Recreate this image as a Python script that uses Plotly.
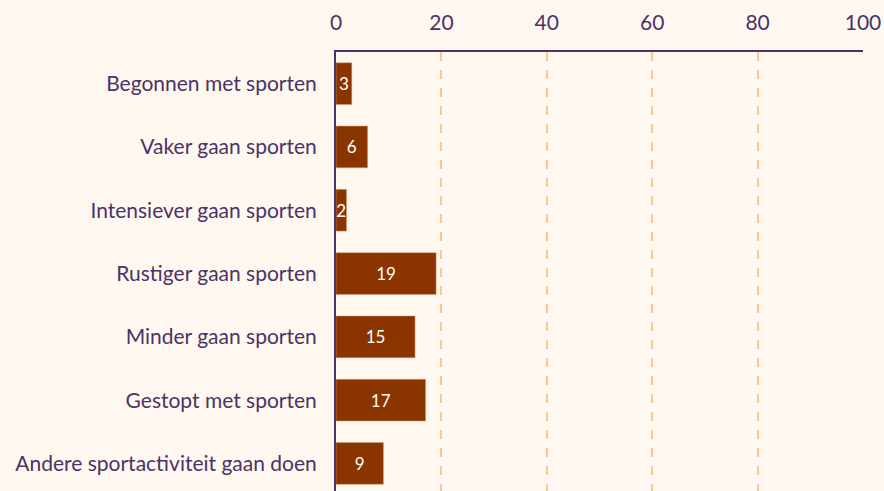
import plotly.graph_objects as go

categories = [
    "Begonnen met sporten",
    "Vaker gaan sporten",
    "Intensiever gaan sporten",
    "Rustiger gaan sporten",
    "Minder gaan sporten",
    "Gestopt met sporten",
    "Andere sportactiviteit gaan doen",
]
values = [3, 6, 2, 19, 15, 17, 9]
tick_values = [0, 20, 40, 60, 80, 100]

text_color = "#4B3366"
bar_color = "#8A3500"
bg = "#FFF8F0"

fig = go.Figure(
    go.Bar(
        x=values,
        y=categories,
        orientation="h",
        width=0.66,
        marker=dict(color=bar_color, line=dict(color="#D9A27A", width=0.5)),
        text=[str(v) for v in values],
        textposition="inside",
        insidetextanchor="middle",
        constraintext="none",
        cliponaxis=False,
        textfont=dict(color="white", size=17, family="Lato"),
        hoverinfo="skip",
    )
)

fig.update_layout(
    width=884,
    height=491,
    paper_bgcolor=bg,
    plot_bgcolor=bg,
    margin=dict(l=336, r=21, t=52, b=0),
    font=dict(family="Lato", color=text_color, size=21),
    showlegend=False,
    xaxis=dict(
        side="top",
        range=[0, 100],
        tickvals=tick_values,
        ticktext=[str(t) for t in tick_values],
        showgrid=True,
        gridcolor="#FFC88A",
        griddash="dash",
        gridwidth=1.5,
        zeroline=False,
        showline=True,
        linecolor=text_color,
        linewidth=2,
        ticks="",
        ticklabelstandoff=12,
        tickfont=dict(size=21, color=text_color, family="Lato"),
    ),
    yaxis=dict(
        range=[6.435, -0.5],
        showgrid=False,
        zeroline=False,
        showline=True,
        linecolor=text_color,
        linewidth=2,
        ticks="",
        ticklabelstandoff=13,
        tickfont=dict(size=21, color=text_color, family="Lato"),
    ),
)

fig.write_html(
    "out.html",
    config={"displayModeBar": False},
    post_script="document.body.style.margin='0';document.body.style.overflow='hidden';document.body.style.background='" + bg + "';",
)
